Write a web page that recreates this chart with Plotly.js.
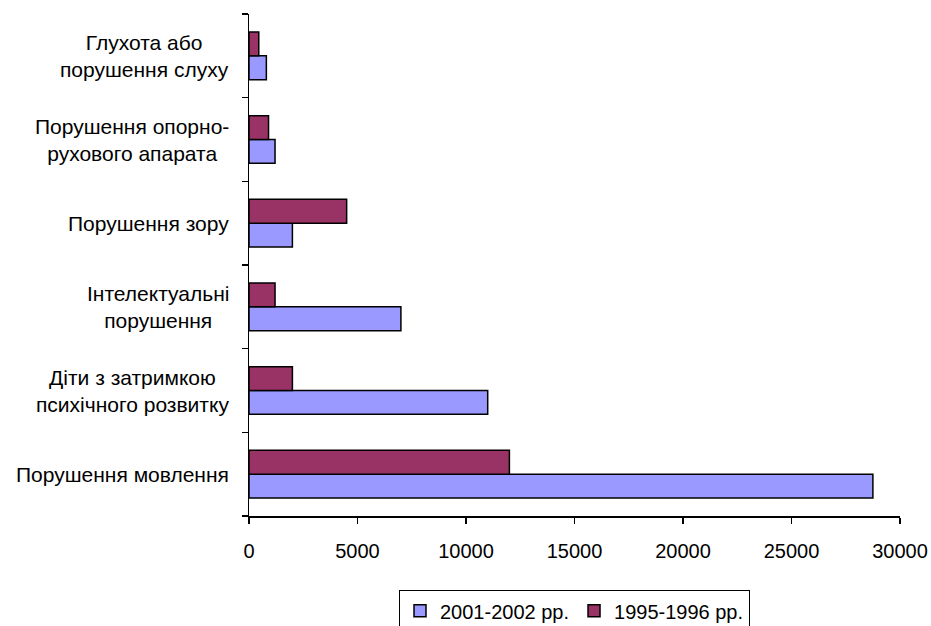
<!DOCTYPE html>
<html>
<head>
<meta charset="utf-8">
<script src="https://cdn.plot.ly/plotly-3.0.1.min.js"></script>
<style>html,body{margin:0;padding:0;background:#fff;}#chart{width:931px;height:626px;}</style>
</head>
<body>
<div id="chart"></div>
<script>
// Categories, bottom to top
var categories = [
  "Порушення мовлення",
  "Діти з затримкою<br>психічного розвитку",
  "Інтелектуальні<br>порушення",
  "Порушення зору",
  "Порушення опорно-<br>рухового апарата",
  "Глухота або<br>порушення слуху"
];
var series2001Name = "2001-2002 рр.";
var series2001 = [28750, 11000, 7000, 2000, 1200, 800];
var series1995Name = "1995-1996 рр.";
var series1995 = [12000, 2000, 1200, 4500, 900, 450];
var xTickValues = [0, 5000, 10000, 15000, 20000, 25000, 30000];

var FONT = "Liberation Sans, Arial, sans-serif";

var traces = [
  {
    type: "bar", orientation: "h", name: series2001Name,
    y: categories, x: series2001,
    marker: {color: "#9999FF", line: {color: "#000000", width: 1.5}}
  },
  {
    type: "bar", orientation: "h", name: series1995Name,
    y: categories, x: series1995,
    marker: {color: "#993366", line: {color: "#000000", width: 1.5}}
  }
];

var annotations = categories.map(function (c) {
  return {
    text: c, x: 0, xref: "paper", xanchor: "right", xshift: -18,
    y: c, yref: "y", yanchor: "middle", align: "center",
    showarrow: false, font: {family: FONT, size: 21, color: "#000"}
  };
});

var layout = {
  width: 931, height: 626,
  margin: {l: 249, r: 31, t: 14, b: 110, autoexpand: false},
  paper_bgcolor: "#fff", plot_bgcolor: "#fff",
  font: {family: FONT, size: 20, color: "#000"},
  barmode: "group", bargap: 0.43, bargroupgap: 0,
  showlegend: true,
  legend: {
    orientation: "h", x: 0.5, xanchor: "center", y: -0.148, yanchor: "top",
    traceorder: "normal", bordercolor: "#000", borderwidth: 1,
    itemwidth: 30,
    font: {family: FONT, size: 20, color: "#000"}
  },
  xaxis: {
    range: [0, 30000], tickvals: xTickValues, ticktext: xTickValues.map(String),
    showgrid: false, zeroline: false, showline: true, linecolor: "#000", linewidth: 1.5,
    ticks: "outside", ticklen: 6, tickwidth: 1.5, tickcolor: "#000",
    ticklabelstandoff: 10, fixedrange: true
  },
  yaxis: {
    type: "category", categoryorder: "array", categoryarray: categories,
    showticklabels: false, tickson: "boundaries",
    showgrid: false, zeroline: false, showline: true, linecolor: "#000", linewidth: 1.5,
    ticks: "outside", ticklen: 6, tickwidth: 1.5, tickcolor: "#000", fixedrange: true
  },
  annotations: annotations
};

Plotly.newPlot("chart", traces, layout, {displayModeBar: false, staticPlot: true});
</script>
</body>
</html>
